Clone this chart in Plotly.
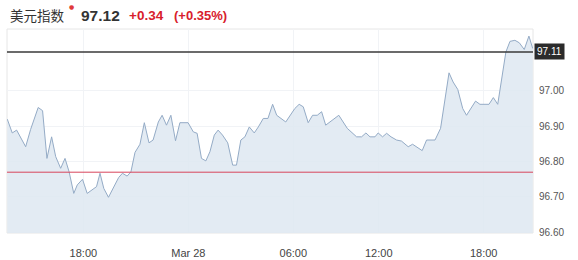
import pandas as pd
import plotly.graph_objects as go

# minutes after 2019-03-27 18:00 for each sample
minutes = [-261, -244, -229, -198, -181, -155, -140, -125, -109, -95, -78, -63, -49, -33, -21, -3,
           13, 45, 57, 70, 86, 121, 134, 150, 163, 177, 194, 209, 225, 239, 257, 270, 285, 300,
           316, 331, 359, 377, 390, 405, 420, 434, 449, 462, 477, 495, 512, 525, 540, 554, 569,
           586, 600, 617, 633, 649, 663, 694, 725, 740, 754, 771, 786, 802, 817, 831, 876,
           972, 1004, 1021, 1036, 1050, 1067, 1078, 1093, 1107, 1122, 1141, 1158, 1181, 1196,
           1229, 1244, 1273, 1292, 1321, 1335, 1351, 1368, 1381, 1412, 1427, 1458, 1473, 1488,
           1516, 1530, 1547, 1562, 1579, 1595, 1608]
values = [96.920, 96.881, 96.889, 96.842, 96.891, 96.953, 96.944, 96.809, 96.870, 96.814,
          96.781, 96.809, 96.771, 96.710, 96.734, 96.750, 96.710, 96.729, 96.767, 96.724,
          96.699, 96.755, 96.767, 96.759, 96.771, 96.826, 96.849, 96.910, 96.853, 96.861,
          96.912, 96.931, 96.903, 96.931, 96.859, 96.910, 96.910, 96.884, 96.880, 96.809,
          96.802, 96.828, 96.875, 96.889, 96.875, 96.853, 96.790, 96.790, 96.861, 96.870,
          96.898, 96.881, 96.898, 96.922, 96.922, 96.962, 96.931, 96.912, 96.950, 96.962,
          96.955, 96.910, 96.931, 96.931, 96.941, 96.903, 96.931, 96.894, 96.870, 96.870,
          96.881, 96.870, 96.870, 96.881, 96.870, 96.880, 96.870, 96.861, 96.858, 96.842,
          96.849, 96.831, 96.861, 96.861, 96.894, 97.051, 97.025, 97.004, 96.950, 96.931,
          96.971, 96.962, 96.962, 96.981, 96.962, 97.110, 97.140, 97.143, 97.136, 97.117,
          97.155, 97.120]

base = pd.Timestamp("2019-03-27 18:00")
times = [base + pd.Timedelta(minutes=m) for m in minutes]

x_tick_times = ["2019-03-27 18:00", "2019-03-28 00:00", "2019-03-28 06:00",
                "2019-03-28 12:00", "2019-03-28 18:00"]
x_tick_text = ["18:00", "Mar 28", "06:00", "12:00", "18:00"]
y_ticks = [96.60, 96.70, 96.80, 96.90, 97.00]
y_tick_text = ["96.60", "96.70", "96.80", "96.90", "97.00"]
last_price = 97.11
prev_close = 96.77
gap = ["2019-03-28 08:50", "2019-03-28 09:57"]

title_name = "美元指数"
price_text = "97.12"
change_text = "+0.34"
change_pct_text = "(+0.35%)"

W, H = 578, 260
ML, MR, MT, MB = 7, 45, 29, 27
PW, PH = W - ML - MR, H - MT - MB


def px_x(px):
    return (px - ML) / PW


def px_y(py):
    return (H - MB - py) / PH


fig = go.Figure()
fig.add_trace(go.Scatter(
    x=times, y=values, mode="lines",
    line=dict(color="#94abc6", width=1),
    fill="tozeroy", fillcolor="rgba(222,232,241,0.85)",
    hoverinfo="skip"))

fig.add_hline(y=last_price, line=dict(color="#3a3a3a", width=1.5))
fig.add_hline(y=prev_close, line=dict(color="#d8455c", width=1))

fig.add_annotation(x=1, xref="paper", xanchor="left", xshift=1, y=last_price, yref="y",
                   text="97.11", showarrow=False, bgcolor="#2b2b2b",
                   font=dict(color="white", size=10, family="Liberation Sans, Arial"),
                   borderpad=2)

title_parts = [
    (8, 15, title_name, dict(size=13.5, color="#333", family="Noto Sans CJK SC")),
    (67, 7, "●", dict(size=6, color="#e03a3a", family="DejaVu Sans")),
    (79, 15, "<b>" + price_text + "</b>", dict(size=15.5, color="#333", family="Liberation Sans")),
    (127, 15, "<b>" + change_text + "</b>", dict(size=13.5, color="#d8202c", family="Liberation Sans")),
    (172, 15, "<b>" + change_pct_text + "</b>", dict(size=13, color="#d8202c", family="Liberation Sans")),
]
for px, py, txt, fnt in title_parts:
    fig.add_annotation(x=px_x(px), y=px_y(py), xref="paper", yref="paper",
                       xanchor="left", yanchor="middle", showarrow=False,
                       text=txt, font=fnt)

fig.add_shape(type="rect", xref="paper", yref="paper", x0=0, x1=1, y0=0, y1=1,
              line=dict(color="#e6e6e6", width=1), layer="below")

fig.update_layout(
    width=W, height=H,
    margin=dict(l=ML, r=MR, t=MT, b=MB),
    paper_bgcolor="white", plot_bgcolor="white",
    showlegend=False,
    font=dict(family="Liberation Sans, Arial", size=10, color="#555"),
    xaxis=dict(
        type="date", automargin=False,
        range=[base + pd.Timedelta(minutes=-262), base + pd.Timedelta(minutes=1609)],
        rangebreaks=[dict(bounds=gap)],
        tickvals=x_tick_times, ticktext=x_tick_text,
        showgrid=True, gridcolor="#f1f3f6", gridwidth=1,
        zeroline=False, showline=False, ticks="",
        ticklabelstandoff=12,
        tickfont=dict(size=11, color="#444")),
    yaxis=dict(
        side="right", automargin=False, range=[96.598, 97.175],
        tickvals=y_ticks, ticktext=y_tick_text,
        showgrid=True, gridcolor="#f1f3f6", gridwidth=1,
        zeroline=False, showline=False, ticks="",
        ticklabelstandoff=5,
        tickfont=dict(size=10, color="#555")),
)

fig.write_html("out.html")
